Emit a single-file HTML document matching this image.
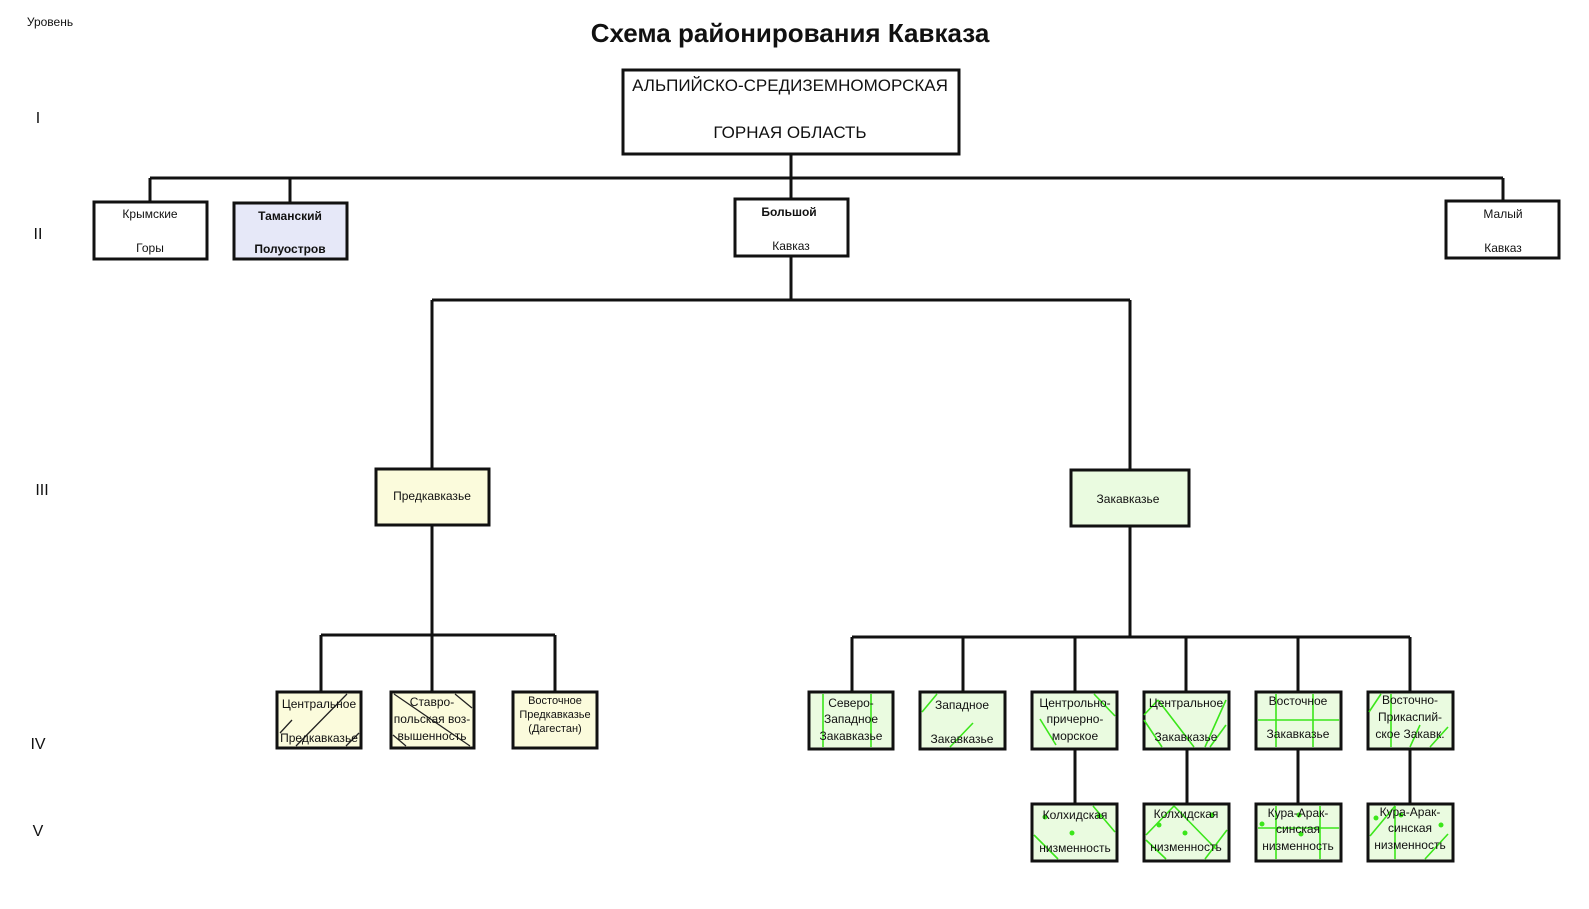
<!DOCTYPE html>
<html><head><meta charset="utf-8"><style>
html,body{margin:0;padding:0;background:#fff;}
svg{display:block;}
text{font-family:"Liberation Sans","DejaVu Sans",sans-serif;fill:#111;text-anchor:middle;}
.b{stroke:#111;stroke-width:3;}
.l{stroke:#111;stroke-width:3;fill:none;}
.g{stroke:#3be61a;stroke-width:1.6;}
.d{stroke:#222;stroke-width:1.3;}
.gd{fill:#3be61a;}
</style></head><body>
<svg width="1589" height="909" viewBox="0 0 1589 909" xmlns="http://www.w3.org/2000/svg">
<text x="50" y="26" font-size="12">Уровень</text>
<text x="790" y="42" font-size="26" font-weight="bold">Схема районирования Кавказа</text>
<text x="38" y="123" font-size="16">I</text>
<text x="38" y="239" font-size="16">II</text>
<text x="42" y="495" font-size="16">III</text>
<text x="38" y="749" font-size="16">IV</text>
<text x="38" y="836" font-size="16">V</text>

<!-- connectors -->
<path class="l" d="M791 154V300 M150 178H1503 M150 178V202 M290 178V203 M1503 178V201 M432 300H1130 M432 300V469 M1130 300V470 M432 525V635 M321 635H555 M321 635V692 M432 635V692 M555 635V692 M1130 526V637 M852 637H1410 M852 637V692 M963 637V692 M1075 637V692 M1186 637V692 M1298 637V692 M1410 637V692 M1075 749V804 M1187 749V804 M1298 749V804 M1410 749V804"/>

<!-- level I -->
<rect class="b" x="623" y="70" width="336" height="84" fill="#fff"/>
<text x="790" y="91" font-size="17">АЛЬПИЙСКО-СРЕДИЗЕМНОМОРСКАЯ</text>
<text x="790" y="138" font-size="17">ГОРНАЯ ОБЛАСТЬ</text>

<!-- level II -->
<rect class="b" x="94" y="202" width="113" height="57" fill="#fff"/>
<text x="150" y="218" font-size="12">Крымские</text><text x="150" y="252" font-size="12">Горы</text>
<rect class="b" x="234" y="203" width="113" height="56" fill="#e6e8f8"/>
<text x="290" y="220" font-size="12" font-weight="bold">Таманский</text><text x="290" y="253" font-size="12" font-weight="bold">Полуостров</text>
<rect class="b" x="735" y="199" width="113" height="57" fill="#fff"/>
<text x="789" y="216" font-size="12" font-weight="bold">Большой</text><text x="791" y="250" font-size="12">Кавказ</text>
<rect class="b" x="1446" y="201" width="113" height="57" fill="#fff"/>
<text x="1503" y="218" font-size="12">Малый</text><text x="1503" y="252" font-size="12">Кавказ</text>

<!-- level III -->
<rect class="b" x="376" y="469" width="113" height="56" fill="#fbfbdc"/>
<text x="432" y="500" font-size="12">Предкавказье</text>
<rect class="b" x="1071" y="470" width="118" height="56" fill="#eafbe0"/>
<text x="1128" y="503" font-size="12">Закавказье</text>

<!-- level IV left -->
<rect class="b" x="277" y="692" width="84" height="56" fill="#fbfbdc"/>
<path class="d" d="M280 733L292 720 M296 746L347 694 M346 746L359 733"/>
<text x="319" y="708" font-size="12">Центральное</text><text x="319" y="742" font-size="12">Предкавказье</text>
<rect class="b" x="391" y="692" width="83" height="56" fill="#fbfbdc"/>
<path class="d" d="M394 694L470 746 M455 694L472 708 M393 735L406 746"/>
<text x="432" y="706" font-size="12">Ставро-</text><text x="432" y="723" font-size="12">польская воз-</text><text x="432" y="740" font-size="12">вышенность</text>
<rect class="b" x="513" y="692" width="84" height="56" fill="#fbfbdc"/>
<text x="555" y="704" font-size="11">Восточное</text><text x="555" y="718" font-size="11">Предкавказье</text><text x="555" y="732" font-size="11">(Дагестан)</text>

<!-- level IV right -->
<g fill="#eafbe0">
<rect class="b" x="809" y="692" width="84" height="57"/>
<rect class="b" x="920" y="692" width="85" height="57"/>
<rect class="b" x="1032" y="692" width="85" height="57"/>
<rect class="b" x="1144" y="692" width="85" height="57"/>
<rect class="b" x="1256" y="692" width="85" height="57"/>
<rect class="b" x="1368" y="692" width="85" height="57"/>
<rect class="b" x="1032" y="804" width="85" height="57"/>
<rect class="b" x="1144" y="804" width="85" height="57"/>
<rect class="b" x="1256" y="804" width="85" height="57"/>
<rect class="b" x="1368" y="804" width="85" height="57"/>
</g>
<path class="g" d="M823 694V747 M871 694V747 M922 712L937 694 M950 747L973 723 M1040 719L1056 745 M1094 694L1115 716 M1144 715L1158 700 M1158 700L1194 747 M1144 720L1162 747 M1226 700L1205 747 M1226 725L1210 747 M1258 720H1339 M1276 694V747 M1313 694V747 M1381 694L1369 712 M1391 694V747 M1420 725L1410 747 M1448 727L1430 747"/>
<text x="851" y="707" font-size="12">Северо-</text><text x="851" y="723" font-size="12">Западное</text><text x="851" y="740" font-size="12">Закавказье</text>
<text x="962" y="709" font-size="12">Западное</text><text x="962" y="743" font-size="12">Закавказье</text>
<text x="1075" y="707" font-size="12">Центрольно-</text><text x="1075" y="723" font-size="12">причерно-</text><text x="1075" y="740" font-size="12">морское</text>
<text x="1186" y="707" font-size="12">Центральное</text><text x="1186" y="741" font-size="12">Закавказье</text>
<text x="1298" y="705" font-size="12">Восточное</text><text x="1298" y="738" font-size="12">Закавказье</text>
<text x="1410" y="704" font-size="12">Восточно-</text><text x="1410" y="721" font-size="12">Прикаспий-</text><text x="1410" y="738" font-size="12">ское Закавк.</text>

<!-- level V -->
<path class="g" d="M1034 835L1058 859 M1093 806L1115 832 M1146 835L1174 806 M1174 806L1216 849 M1146 840L1166 859 M1227 830L1205 859 M1258 828H1339 M1276 806V859 M1320 806V859 M1370 836L1395 806 M1395 806V859 M1448 834L1425 859"/>
<g class="gd">
<circle cx="1045" cy="817" r="2.5"/><circle cx="1072" cy="833" r="2.5"/><circle cx="1099" cy="816" r="2.5"/>
<circle cx="1159" cy="825" r="2.5"/><circle cx="1185" cy="833" r="2.5"/><circle cx="1212" cy="815" r="2.5"/>
<circle cx="1262" cy="824" r="2.5"/><circle cx="1299" cy="815" r="2.5"/><circle cx="1301" cy="834" r="2.5"/>
<circle cx="1376" cy="818" r="2.5"/><circle cx="1401" cy="815" r="2.5"/><circle cx="1441" cy="825" r="2.5"/>
</g>
<text x="1075" y="819" font-size="12">Колхидская</text><text x="1075" y="852" font-size="12">низменность</text>
<text x="1186" y="818" font-size="12">Колхидская</text><text x="1186" y="851" font-size="12">низменность</text>
<text x="1298" y="817" font-size="12">Кура-Арак-</text><text x="1298" y="833" font-size="12">синская</text><text x="1298" y="850" font-size="12">низменность</text>
<text x="1410" y="816" font-size="12">Кура-Арак-</text><text x="1410" y="832" font-size="12">синская</text><text x="1410" y="849" font-size="12">низменность</text>
</svg>
</body></html>
